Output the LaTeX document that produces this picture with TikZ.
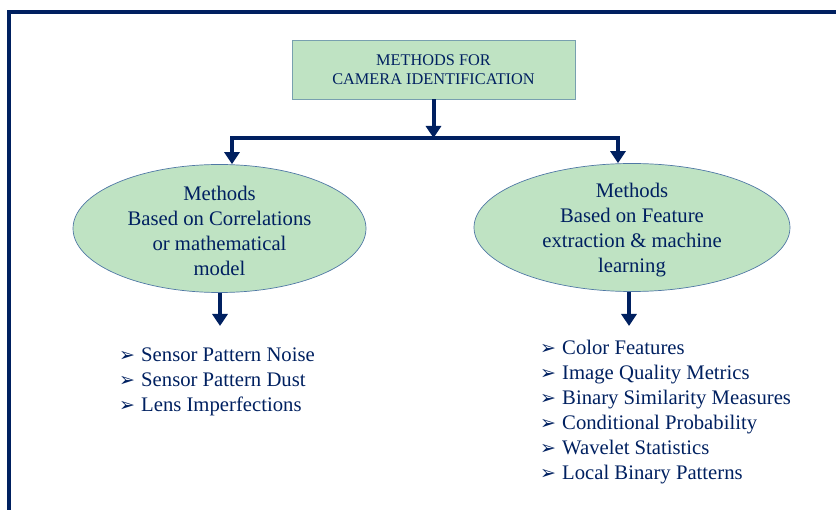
\documentclass[tikz,border=0pt]{standalone}
\usepackage{fontspec}
\setmainfont{Liberation Serif}
\newfontfamily\dejavu{DejaVu Sans}
\usetikzlibrary{shapes.geometric,arrows.meta}
\definecolor{navy}{RGB}{0,32,96}
\definecolor{lgreen}{RGB}{191,227,195}
\definecolor{boxline}{RGB}{120,160,175}
\definecolor{ovalline}{RGB}{80,120,165}
\newcommand{\bul}{\makebox[22pt][l]{\raisebox{0.5pt}{\dejavu\fontsize{19pt}{19pt}\selectfont ➢}}}
\tikzset{
  frame/.style={draw=navy,line width=3.5pt},
  topbox/.style={draw=boxline,fill=lgreen,line width=0.8pt,minimum width=283pt,minimum height=59pt,inner sep=0pt,align=center,text=navy,font=\fontsize{16.3pt}{19pt}\selectfont},
  oval/.style={ellipse,draw=ovalline,fill=lgreen,line width=0.7pt,minimum height=128pt,inner sep=0pt},
  ovaltext/.style={align=center,text=navy,inner sep=0pt,font=\fontsize{20.7pt}{25pt}\selectfont},
  conn/.style={draw=navy,line width=4.5pt},
  arr/.style={draw=navy,line width=4pt,-{Triangle[width=15pt,length=12pt]}},
  listtext/.style={align=left,text=navy,inner sep=0pt,anchor=north west,font=\fontsize{20.7pt}{25pt}\selectfont}
}
\begin{document}
\begin{tikzpicture}[x=1pt,y=-1pt]
\useasboundingbox (0,0) rectangle (836,510);
\draw[frame] (9,520) -- (9,12) -- (846,12);
\node[topbox] (top) at (433.5,69.5) {METHODS FOR\\CAMERA IDENTIFICATION};
\coordinate (bar) at (433.5,138);
\coordinate (bl) at (232,138);
\coordinate (br) at (618,138);
\node[oval,minimum width=293pt] (left) at (219.5,228.5) {};
\node[oval,minimum width=316pt] (right) at (632,227.5) {};
\node[ovaltext] (ltext) at ([yshift=-2.5pt]left.center) {Methods\\Based on Correlations\\or mathematical\\model};
\node[ovaltext] (rtext) at ([yshift=-3pt]right.center) {Methods\\Based on Feature\\extraction \& machine\\learning};
\draw[arr] (top.south) -- (bar);
\draw[conn] ([xshift=-2pt]bl) -- ([xshift=2pt]br);
\draw[arr] (bl) -- (bl |- left.north);
\draw[arr] (br) -- (br |- right.north);
\coordinate (lt) at (220,326);
\coordinate (rt) at (629,326);
\draw[arr] (left.south -| lt) -- (lt);
\draw[arr] (right.south -| rt) -- (rt);
\node[listtext] (llist) at (119,348) {\bul Sensor Pattern Noise\\\bul Sensor Pattern Dust\\\bul Lens Imperfections};
\node[listtext] (rlist) at (540,340) {\bul Color Features\\\bul Image Quality Metrics\\\bul Binary Similarity Measures\\\bul Conditional Probability\\\bul Wavelet Statistics\\\bul Local Binary Patterns};
\end{tikzpicture}
\end{document}
